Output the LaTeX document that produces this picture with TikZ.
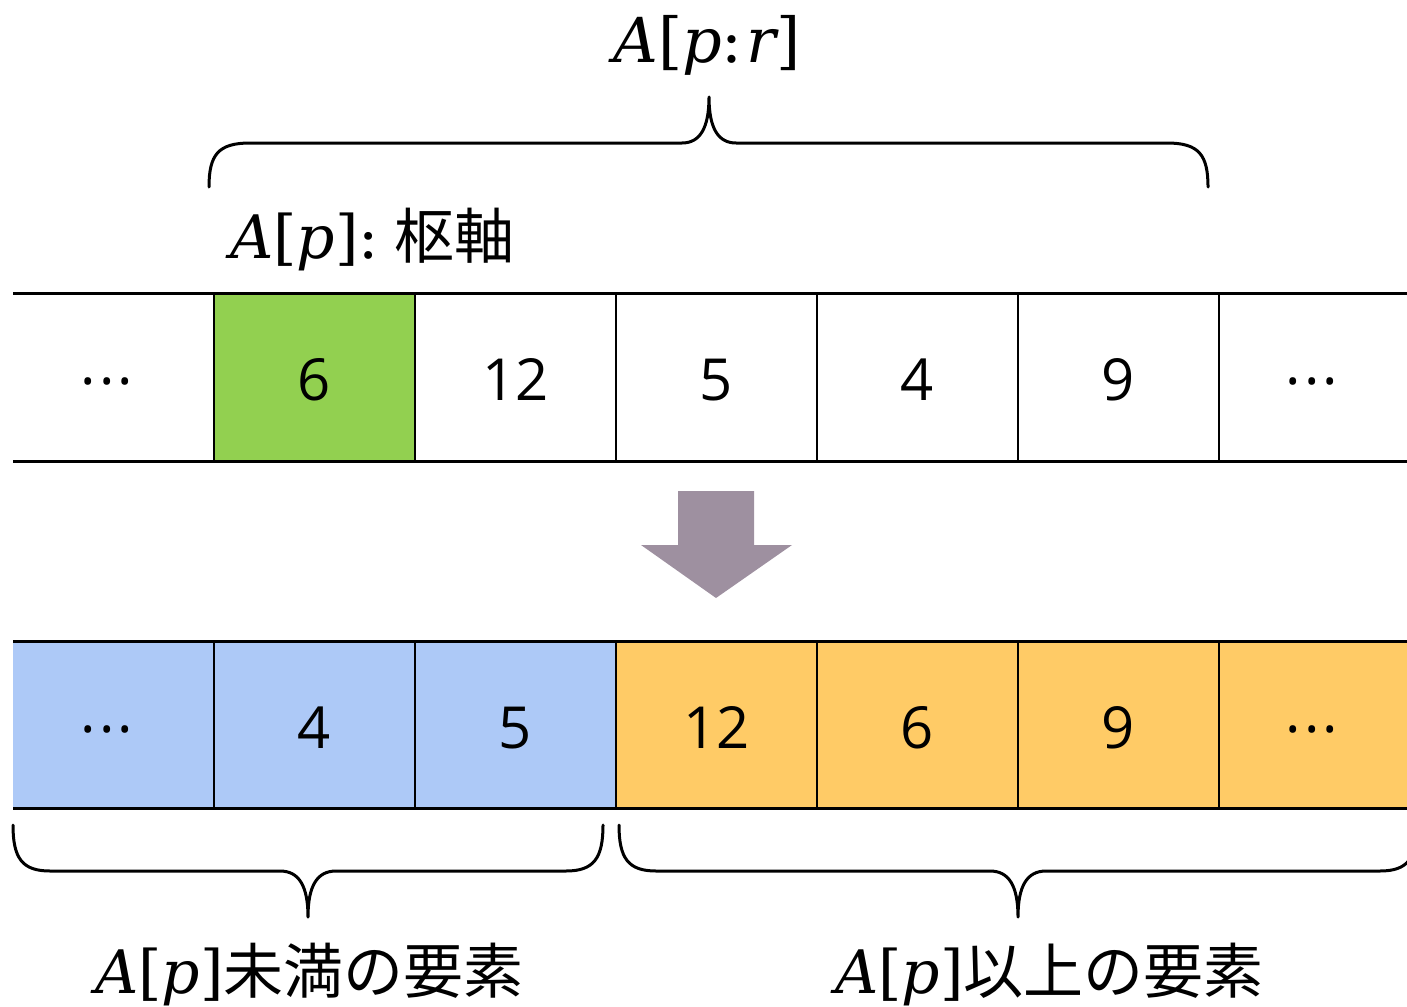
\documentclass[tikz,border=0pt]{standalone}
\usepackage{fontspec}
\newfontfamily\numfont{Open Sans}
\newfontfamily\jpfont{Noto Sans CJK JP}
\newfontfamily\sr{DejaVu Serif}
\newcommand{\mi}[1]{{\sr\itshape #1}}
\newcommand{\mr}[1]{{\sr #1}}
\definecolor{pivotc}{HTML}{92D050}
\definecolor{lowc}{HTML}{ADC9F7}
\definecolor{highc}{HTML}{FFCB66}
\definecolor{arrowc}{RGB}{158,144,160}
\tikzset{
  cellbox/.style={minimum height=168pt, inner sep=0pt, outer sep=0pt, anchor=north west},
  num/.style={font=\numfont\fontsize{58}{60}\selectfont, anchor=base, inner sep=0pt},
  lbl/.style={font=\fontsize{60}{64}\selectfont, anchor=base west, inner sep=0pt},
  rowline/.style={line width=3pt},
  sepline/.style={line width=2.5pt},
  bracel/.style={line width=3pt, line join=round, line cap=round},
}
\newcommand{\mydots}{.\kern3pt.\kern3pt.}
\begin{document}
\begin{tikzpicture}[x=1pt,y=-1pt]
\useasboundingbox (0,0) rectangle (1407,1006);
\clip (0,0) rectangle (1407,1006);
% top row
\node[cellbox, fill=pivotc, minimum width=201pt] (piv) at (214,293) {};
\node[num] (t0) at (107,384) {\mydots};
\node[num] (t1) at (314.5,400) {6};
\node[num] (t2) at (515.5,400) {12};
\node[num] (t3) at (716.5,400) {5};
\node[num] (t4) at (917.5,400) {4};
\node[num] (t5) at (1118.5,400) {9};
\node[num] (t6) at (1312,384) {\mydots};
\draw[rowline] (13,293) -- (1407,293);
\draw[rowline] (13,461) -- (1407,461);
\foreach \x in {214,415,616,817,1018,1219} \draw[sepline] (\x,293) -- (\x,461);
% arrow
\fill[arrowc] (678,491) -- (754,491) -- (754,545) -- (792,545) -- (716,598) -- (641,545) -- (678,545) -- cycle;
% bottom row
\node[cellbox, fill=lowc, minimum width=603pt] (low) at (13,641) {};
\node[cellbox, fill=highc, minimum width=791pt] (high) at (616,641) {};
\node[num] (b0) at (107,732) {\mydots};
\node[num] (b1) at (314.5,748) {4};
\node[num] (b2) at (515.5,748) {5};
\node[num] (b3) at (716.5,748) {12};
\node[num] (b4) at (917.5,748) {6};
\node[num] (b5) at (1118.5,748) {9};
\node[num] (b6) at (1312,732) {\mydots};
\draw[rowline] (13,641) -- (1407,641);
\draw[rowline] (13,808) -- (1407,808);
\foreach \x in {214,415,616,817,1018,1219} \draw[sepline] (\x,641) -- (\x,808);
% top brace
\draw[bracel] (209,187) .. controls (209,155) and (218,143) .. (250,143) -- (682,143)
  .. controls (700,143) and (709,128) .. (709,97)
  .. controls (709,128) and (718,143) .. (736,143) -- (1167,143)
  .. controls (1199,143) and (1208,155) .. (1208,187);
% bottom braces
\draw[bracel] (13,825) .. controls (13,858) and (22,871) .. (50,871) -- (280,871)
  .. controls (299,871) and (308,886) .. (308,917)
  .. controls (308,886) and (317,871) .. (336,871) -- (566,871)
  .. controls (594,871) and (603,858) .. (603,825);
\draw[bracel] (619,825) .. controls (619,858) and (628,871) .. (656,871) -- (990,871)
  .. controls (1009,871) and (1018,886) .. (1018,917)
  .. controls (1018,886) and (1027,871) .. (1046,871) -- (1380,871)
  .. controls (1408,871) and (1417,858) .. (1417,825);
% labels
\node[font=\fontsize{62}{66}\selectfont, anchor=base, inner sep=0pt] (top) at (707,63) {\mi{A}\mr{[}\mi{p}\mr{:}\kern4pt\mi{r}\mr{]}};
\node[lbl] (pivl) at (230,258) {\mi{A}\mr{[}\mi{p}\mr{]}\mr{:}\kern16pt\jpfont 枢軸};
\node[lbl] (lowl) at (95,993) {\mi{A}\mr{[}\mi{p}\mr{]}\jpfont 未満の要素};
\node[lbl] (highl) at (835,993) {\mi{A}\mr{[}\mi{p}\mr{]}\jpfont 以上の要素};
\end{tikzpicture}
\end{document}
